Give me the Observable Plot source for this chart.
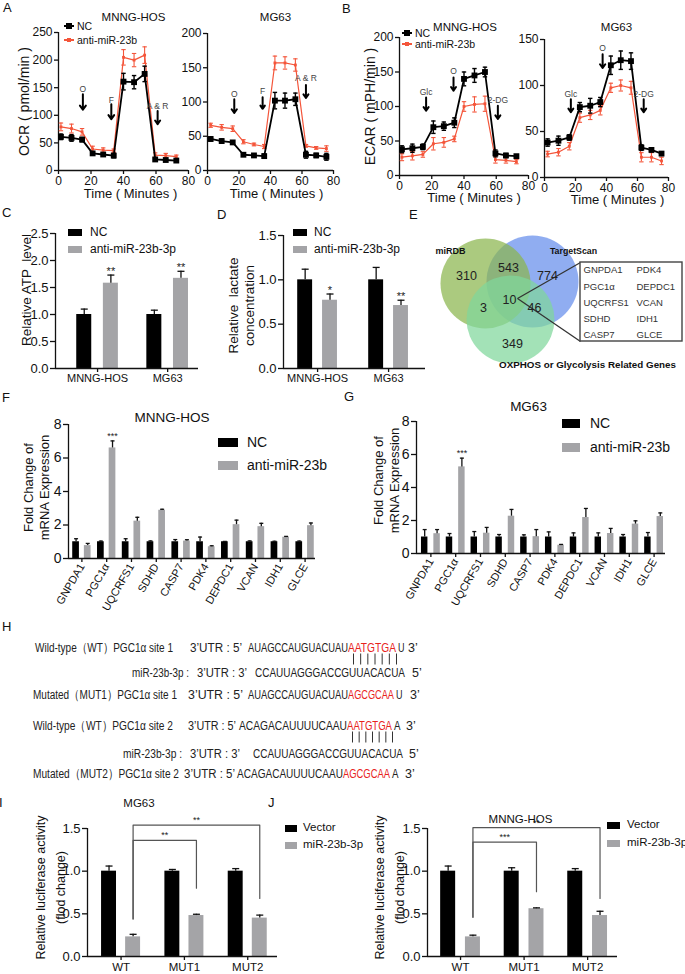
<!DOCTYPE html>
<html><head><meta charset="utf-8">
<script src="https://cdn.jsdelivr.net/npm/d3@7"></script>
<script src="https://cdn.jsdelivr.net/npm/@observablehq/plot@0.6"></script>
<style>
html,body{margin:0;padding:0;background:#fff;}
#fig{position:relative;width:685px;height:974px;overflow:hidden;background:#fff;font-family:"Liberation Sans",Arial,Helvetica,sans-serif;color:#111;}
#fig svg{max-width:none;overflow:visible;}
</style></head><body><div id="fig"></div>
<script>
// ================= DATA =================
// Panel A / B : Seahorse time courses
const tHOS = [1.5, 8, 14.5, 21, 27.5, 34, 40, 46.5, 53, 59.5, 66, 72.5];
const tMG  = [2, 9, 16, 22.8, 29.5, 36, 42.8, 49.2, 55.8, 62.5, 69, 75.5];
const ocrHosNC     = [61, 59, 56, 31, 29, 27, 161, 160, 175, 20, 19, 18];
const ocrHosNCsd   = [5, 6, 4, 3, 2, 4, 15, 12, 14, 3, 2, 3];
const ocrHosAnti   = [79, 76, 70, 39, 37, 36, 205, 200, 209, 28, 27, 25];
const ocrHosAntiSd = [7, 8, 6, 5, 4, 3, 14, 12, 15, 4, 4, 3];
const ocrMgNC      = [46, 43, 41, 23, 22, 21, 102, 102, 104, 23, 22, 20];
const ocrMgNCsd    = [3, 3, 2, 2, 2, 3, 12, 11, 9, 5, 3, 5];
const ocrMgAnti    = [66, 63, 61, 42, 38, 35, 157, 157, 154, 36, 33, 32];
const ocrMgAntiSd  = [3, 4, 4, 3, 2, 3, 10, 9, 9, 2, 2, 4];
const ecarHosNC     = [38, 39.5, 41.5, 70, 71.5, 76.5, 140, 145, 150, 32, 29, 28];
const ecarHosNCsd   = [5, 6, 4, 9, 6, 7, 10, 10, 7, 5, 3, 2];
const ecarHosAnti   = [26.5, 28.5, 30.5, 46, 48, 53, 100, 103, 104, 23, 22, 20];
const ecarHosAntiSd = [5, 6, 4, 9, 7, 4, 7, 11, 11, 5, 4, 3];
const ecarMgNC      = [38, 40, 43.5, 76.5, 78, 82, 122, 127.5, 126.5, 32.5, 30, 26];
const ecarMgNCsd    = [4, 5, 3, 5, 8, 5, 10, 10, 9, 3, 2, 2];
const ecarMgAnti    = [25.5, 27.5, 34, 65, 68, 73, 97.5, 100, 97.5, 22, 22, 18];
const ecarMgAntiSd  = [3, 4, 4, 5, 5, 5, 5, 6, 7, 5, 5, 4];
// injection annotations (time, label height, arrow top, arrow tip)
const arrowsOcrHos  = [{label:"O",t:15,ly:148,top:138,tip:110},{label:"F",t:32.5,ly:128,top:120,tip:93},{label:"A & R",t:61,ly:117,top:108,tip:84}];
const arrowsOcrMg   = [{label:"O",t:17,ly:112,top:104,tip:84},{label:"F",t:35,ly:115,top:107,tip:90},{label:"A & R",t:62.5,ly:134,top:125,tip:106}];
const arrowsEcarHos = [{label:"Glc",t:16.5,ly:121,top:113,tip:94},{label:"O",t:33.5,ly:151,top:142,tip:123},{label:"2-DG",t:61,ly:109,top:101,tip:82}];
const arrowsEcarMg  = [{label:"Glc",t:17,ly:91,top:85,tip:71},{label:"O",t:37.5,ly:141,top:134,tip:119},{label:"2-DG",t:64,ly:91,top:85,tip:71}];
const timeTicks = [0, 20, 40, 60, 80];

// Panel C / D
const cells = ["MNNG-HOS", "MG63"];
const atpNC = [1.0, 1.0], atpNCerr = [0.10, 0.08];
const atpAnti = [1.58, 1.67], atpAntiErr = [0.15, 0.13], atpStars = ["**", "**"];
const lacNC = [1.0, 1.0], lacNCerr = [0.12, 0.14];
const lacAnti = [0.77, 0.71], lacAntiErr = [0.07, 0.06], lacStars = ["*", "**"];

// Panel E
const vennNames = ["miRDB", "TargetScan", "OXPHOS or Glycolysis Related Genes"];
const vennCounts = [310, 543, 774, 10, 3, 46, 349];
const hubGenesL = ["GNPDA1", "PGC1α", "UQCRFS1", "SDHD", "CASP7"];
const hubGenesR = ["PDK4", "DEPDC1", "VCAN", "IDH1", "GLCE"];

// Panel F / G
const genes = ["GNPDA1","PGC1α","UQCRFS1","SDHD","CASP7","PDK4","DEPDC1","VCAN","IDH1","GLCE"];
const fNC      = [1,1,1,1,1,1,1,1,1,1];
const fNCerr   = [0.18,0.04,0.18,0.05,0.13,0.28,0.02,0.05,0.03,0.04];
const fAnti    = [0.77,6.6,2.23,2.88,1.04,0.7,2.02,1.9,1.27,1.96];
const fAntiErr = [0.13,0.42,0.23,0.06,0.08,0.06,0.27,0.2,0.05,0.16];
const fStars   = ["","***","","","","","","","",""];
const gNC      = [1,1,1,1,1,1,1,1,1,1];
const gNCerr   = [0.45,0.21,0.33,0.15,0.13,0.31,0.25,0.25,0.15,0.27];
const gAnti    = [1.2,5.25,1.23,2.26,1.02,0.5,2.18,1.21,1.78,2.24];
const gAntiErr = [0.25,0.53,0.35,0.41,0.43,0.05,0.55,0.31,0.2,0.22];
const gStars   = ["","***","","","","","","","",""];

// Panel H
const hLabels = ["Wild-type（WT）PGC1α site 1","miR-23b-3p :","Mutated（MUT1）PGC1α site 1","Wild-type（WT）PGC1α site 2","miR-23b-3p :","Mutated（MUT2）PGC1α site 2"];
const hUtr = ["3’UTR : 5’","3’UTR : 3’","3’UTR : 5’","3’UTR : 5’","3’UTR : 3’","3’UTR : 5’"];
const hSeqBlack = ["AUAGCCAUGUACUAU","CCAUUAGGGACCGUUACACUA","AUAGCCAUGUACUAU","ACAGACAUUUUCAAU","CCAUUAGGGACCGUUACACUA","ACAGACAUUUUCAAU"];
const hSeqRed = ["AATGTGA","","AGCGCAA","AATGTGA","","AGCGCAA"];
const hSeqTail = ["U","","U","A","","A"];
const hEnd = ["3’","5’","3’","3’","5’","3’"];

// Panel I / J
const constructs = ["WT", "MUT1", "MUT2"];
const iVec = [1.0, 1.0, 1.0], iVecErr = [0.06, 0.02, 0.03];
const iMir = [0.23, 0.48, 0.45], iMirErr = [0.03, 0.015, 0.035];
const iBrackets = [{a:0,b:1,top:1.36,ya:0.44,yb:0.8,label:"**"},{a:0,b:2,top:1.54,ya:0.44,yb:0.68,label:"**"}];
const jVec = [1.0, 1.0, 1.0], jVecErr = [0.06, 0.04, 0.03];
const jMir = [0.23, 0.56, 0.48], jMirErr = [0.02, 0.01, 0.05];
const jBrackets = [{a:0,b:1,top:1.34,ya:0.46,yb:0.76,label:"***"},{a:0,b:2,top:1.51,ya:0.46,yb:0.68,label:"**"}];

// ================= HELPERS =================
const RED = "#f4553a", GRAY = "#a4a4a7", BLACK = "#000";
const FONT = '"Liberation Sans", Arial, Helvetica, sans-serif';
const fig = document.getElementById("fig");
const cap = {draw(ctx, size){ const r = Math.sqrt(size/Math.PI); ctx.moveTo(-r,0); ctx.lineTo(r,0); }};
const baseStyle = {background:"transparent", fontFamily: FONT, color:"#111", overflow:"visible"};
const CENTER = {textAnchor:"middle", lineAnchor:"middle"};

function place(node, left, top, w, h) {
  const d = document.createElement("div");
  d.style.cssText = `position:absolute;left:${left}px;top:${top}px;width:${w}px;height:${h}px;`;
  d.appendChild(node); fig.appendChild(d);
}
function txt(s, x, y, {size=12, weight="normal", anchor="start", color="#111"}={}) {
  const d = document.createElement("div");
  d.textContent = s;
  d.style.cssText = `position:absolute;top:${y - size*0.6}px;left:${x}px;font-size:${size}px;line-height:${size*1.2}px;font-weight:${weight};color:${color};white-space:nowrap;`;
  if (anchor === "middle") d.style.transform = "translateX(-50%)";
  fig.appendChild(d);
}
function rectDiv(x, y, w, h, color) {
  const d = document.createElement("div");
  d.style.cssText = `position:absolute;left:${x}px;top:${y}px;width:${w}px;height:${h}px;background:${color};`;
  fig.appendChild(d);
}
function lineItem(x, y, color, ms, label, size) {
  rectDiv(x, y-0.75, 10, 1.5, color); rectDiv(x+5-ms/2, y-ms/2, ms, ms, color); txt(label, x+13, y, {size});
}
function boxItem(x, y, w, h, color, label, size, gap) {
  rectDiv(x, y-h/2, w, h, color); txt(label, x+w+gap, y, {size});
}

function timeChart(o) {
  const mk = (v, sd) => o.t.map((t,i)=>({t, v:v[i], lo:v[i]-sd[i], hi:v[i]+sd[i]}));
  const nc = mk(o.nc, o.ncSd), an = mk(o.anti, o.antiSd);
  const marks = [
    Plot.ruleY([0], {strokeWidth:1.3}),
    Plot.ruleX([0], {strokeWidth:1.3}),
    Plot.axisX({ticks: timeTicks, tickSize:4, tickPadding:2, fontSize:12, label:null, strokeWidth:1.3}),
    Plot.axisY({ticks: o.yTicks, tickSize:4, tickPadding:2, fontSize:12, label:null, strokeWidth:1.3})
  ];
  for (const [rows, color, big] of [[an, RED, false], [nc, BLACK, true]]) {
    marks.push(
      Plot.ruleX(rows, {x:"t", y1:"lo", y2:"hi", stroke:color, strokeWidth: big?1.4:1.1}),
      Plot.dot(rows, {x:"t", y:"hi", symbol:cap, r:2.2, stroke:color, strokeWidth: big?1.4:1.1, fill:"none"}),
      Plot.dot(rows, {x:"t", y:"lo", symbol:cap, r:2.2, stroke:color, strokeWidth: big?1.4:1.1, fill:"none"}),
      Plot.line(rows, {x:"t", y:"v", stroke:color, strokeWidth: big?1.8:1.2}),
      Plot.dot(rows, {x:"t", y:"v", symbol:"square", r: big?3.3:1.6, fill:color, stroke:"none"})
    );
  }
  marks.push(
    Plot.arrow(o.arrows, {x1:"t", x2:"t", y1:"top", y2:"tip", stroke:"#000", strokeWidth:2, headLength:5, headAngle:70}),
    Plot.text(o.arrows, {x:"t", y:"ly", text:"label", fontSize:8.5, fill:"#444"}),
    Plot.text([o.title], {frameAnchor:"top", dx:o.tdx, dy:o.tdy, fontSize:11.5, ...CENTER}),
    Plot.text(["Time ( Minutes )"], {frameAnchor:"bottom", dx:o.xdx, dy:o.xdy, fontSize:13, ...CENTER})
  );
  if (o.ylabel) marks.push(Plot.text([o.ylabel], {frameAnchor:"left", rotate:-90, dx:o.ydx, dy:0, fontSize:14, ...CENTER}));
  return Plot.plot({width:o.w, height:o.h, marginLeft:o.ml, marginRight:o.mr, marginTop:o.mt, marginBottom:o.mb,
    x:{domain:[0,80]}, y:{domain:[0,o.yMax]}, style:baseStyle, marks});
}

function barChart(o) {
  const rows = [];
  o.series.forEach(s => o.cats.forEach((c,i) => rows.push({i, x: i + s.off, v: s.vals[i], hi: s.vals[i] + s.errs[i], color: s.color, star: s.stars ? s.stars[i] : ""})));
  const marks = [
    Plot.rect(rows, {x1: d => d.x - o.hw, x2: d => d.x + o.hw, y1: d => 0, y2: "v", fill: "color"}),
    Plot.ruleX(rows, {x:"x", y1:"v", y2:"hi", stroke:"#111", strokeWidth:1.3}),
    Plot.dot(rows, {x:"x", y:"hi", symbol:cap, r:o.capR || 2.5, stroke:"#111", strokeWidth:1.3, fill:"none"}),
    Plot.text(rows.filter(d => d.star), {x:"x", y:"hi", text:"star", dy:o.starDy || -5, fontSize:o.starSize || 10, fill:"#222"}),
    Plot.ruleY([0], {strokeWidth:1.3}),
    Plot.ruleX([o.domain[0]], {strokeWidth:1.3}),
    Plot.axisY({ticks:o.yTicks, tickFormat:o.fmt, tickSize:5, tickPadding:2, fontSize:o.tickFont, label:null, strokeWidth:1.3}),
    Plot.axisX({ticks:d3.range(o.cats.length), tickFormat: i => o.cats[i], tickSize:4, tickPadding:2, fontSize:o.catFont, tickRotate:o.rotate || 0, label:null, strokeWidth:1.3})
  ];
  if (o.brackets) {
    const off = o.series[1].off;
    const pts = [];
    o.brackets.forEach((b,k) => {
      pts.push({k, x:b.a+off, y:b.ya},{k, x:b.a+off, y:b.top},{k, x:b.b+off, y:b.top},{k, x:b.b+off, y:b.yb});
    });
    marks.push(
      Plot.line(pts, {x:"x", y:"y", z:"k", stroke:"#555", strokeWidth:1.2}),
      Plot.text(o.brackets, {x: b => (b.a + b.b)/2 + off, y:"top", text:"label", dy:-5, fontSize:9, fill:"#222"})
    );
  }
  if (o.title) marks.push(Plot.text([o.title], {frameAnchor:"top", dx:o.tdx, dy:o.tdy, fontSize:o.titleSize || 14, ...CENTER}));
  marks.push(Plot.text([o.ylabel], {frameAnchor:"left", rotate:-90, dx:o.ydx, dy:o.ydy || 0, fontSize:o.yFont, lineHeight:o.lh || 1.2, ...CENTER}));
  return Plot.plot({width:o.w, height:o.h, marginLeft:o.ml, marginRight:o.mr, marginTop:o.mt, marginBottom:o.mb,
    x:{domain:o.domain}, y:{domain:[0,o.yMax]}, color:{type:"identity"}, style:baseStyle, marks});
}

// ================= PANEL A =================
place(timeChart({t:tHOS, nc:ocrHosNC, ncSd:ocrHosNCsd, anti:ocrHosAnti, antiSd:ocrHosAntiSd, yMax:250, yTicks:[0,50,100,150,200,250],
  arrows:arrowsOcrHos, title:"MNNG-HOS", tdx:10, tdy:-15, xdx:7, xdy:23, ylabel:"OCR ( pmol/min )", ydx:-34,
  w:195, h:205, ml:58, mr:7, mt:32, mb:35}), 0, 0, 195, 205);
place(timeChart({t:tMG, nc:ocrMgNC, ncSd:ocrMgNCsd, anti:ocrMgAnti, antiSd:ocrMgAntiSd, yMax:200, yTicks:[0,50,100,150,200],
  arrows:arrowsOcrMg, title:"MG63", tdx:5, tdy:-16, xdx:6, xdy:23,
  w:190, h:205, ml:57, mr:7, mt:33, mb:35}), 150, 0, 190, 205);
lineItem(64, 26, BLACK, 6, "NC", 10.5);
lineItem(64, 40, RED, 3.2, "anti-miR-23b", 10.5);

// ================= PANEL B =================
place(timeChart({t:tHOS, nc:ecarHosNC, ncSd:ecarHosNCsd, anti:ecarHosAnti, antiSd:ecarHosAntiSd, yMax:200, yTicks:[0,50,100,150,200],
  arrows:arrowsEcarHos, title:"MNNG-HOS", tdx:1, tdy:-10, xdx:10, xdy:22, ylabel:"ECAR ( mPH/min )", ydx:-29,
  w:190, h:205, ml:54, mr:7, mt:37, mb:30}), 345, 0, 190, 205);
place(timeChart({t:tMG, nc:ecarMgNC, ncSd:ecarMgNCsd, anti:ecarMgAnti, antiSd:ecarMgAntiSd, yMax:150, yTicks:[0,50,100,150],
  arrows:arrowsEcarMg, title:"MG63", tdx:10, tdy:-12, xdx:11, xdy:22,
  w:190, h:205, ml:54, mr:12, mt:39, mb:28}), 490, 0, 190, 205);
lineItem(402, 33, BLACK, 6, "NC", 10.5);
lineItem(402, 44, RED, 3.2, "anti-miR-23b", 10.5);

// ================= PANEL C =================
const fmt1 = d3.format(".1f");
place(barChart({cats:cells, series:[{vals:atpNC, errs:atpNCerr, color:BLACK, off:-0.19},{vals:atpAnti, errs:atpAntiErr, color:GRAY, off:0.19, stars:atpStars}],
  hw:0.107, domain:[-0.6,1.44], yMax:2.5, yTicks:[0,0.5,1,1.5,2,2.5], fmt:fmt1, tickFont:13, catFont:11,
  ylabel:"Relative ATP  level", ydx:-30, ydy:-11, yFont:13.5, starSize:11, starDy:-4, capR:3.5,
  w:210, h:185, ml:55, mr:12, mt:33, mb:17}), 0, 200, 210, 185);
boxItem(68, 232, 14, 7, BLACK, "NC", 12, 8);
boxItem(68, 249, 14, 7, GRAY, "anti-miR-23b-3p", 12, 8);

// ================= PANEL D =================
place(barChart({cats:cells, series:[{vals:lacNC, errs:lacNCerr, color:BLACK, off:-0.175},{vals:lacAnti, errs:lacAntiErr, color:GRAY, off:0.175, stars:lacStars}],
  hw:0.105, domain:[-0.48,1.52], yMax:1.5, yTicks:[0,0.5,1,1.5], fmt:fmt1, tickFont:13, catFont:11,
  ylabel:"Relative  lactate\nconcentration", ydx:-43, ydy:3.5, yFont:13.5, starSize:11, starDy:-4, capR:3.5,
  w:215, h:185, ml:68, mr:5, mt:35, mb:17}), 215, 200, 215, 185);
boxItem(293, 232, 14, 7, BLACK, "NC", 12, 7);
boxItem(293, 249, 14, 7, GRAY, "anti-miR-23b-3p", 12, 7);

// ================= PANEL E =================
{
  const circles = [
    {name:vennNames[0], cx:485, cy:283, r:45, fill:"#8bb54d"},
    {name:vennNames[1], cx:532, cy:281, r:46, fill:"#658deb"},
    {name:vennNames[2], cx:510, cy:319, r:44, fill:"#80d79b"}
  ];
  const regionXY = [[466,275],[508,267],[547,275],[509,299],[483,307],[534,307],[512,343]];
  const regions = vennCounts.map((c,i) => ({x:regionXY[i][0], y:regionXY[i][1], c:String(c)}));
  const setLabels = [{x:450,y:251,t:vennNames[0],s:9},{x:573,y:251,t:vennNames[1],s:8.8},{x:587,y:364,t:vennNames[2],s:9.8}];
  const geneRows = [269,286,302,318,334];
  const geneTexts = hubGenesL.map((g,i)=>({x:583,y:geneRows[i],t:g})).concat(hubGenesR.map((g,i)=>({x:636,y:geneRows[i],t:g})));
  const e = Plot.plot({width:265, height:150, margin:0,
    x:{domain:[420,685], range:[0,265], axis:null}, y:{domain:[225,375], range:[0,150], axis:null},
    r:{type:"identity"}, color:{type:"identity"}, style:baseStyle,
    marks:[
      Plot.dot(circles, {x:"cx", y:"cy", r:"r", fill:"fill", fillOpacity:0.72, stroke:"none"}),
      Plot.link([{x2:580,y2:262},{x2:580,y2:341}], {x1:()=>517, y1:()=>298, x2:"x2", y2:"y2", stroke:"#333", strokeWidth:1.3}),
      Plot.rect([{}], {x1:()=>580, x2:()=>682, y1:()=>262, y2:()=>341, fill:"white", stroke:"#444", strokeWidth:1.4}),
      Plot.text(regions, {x:"x", y:"y", text:"c", fontSize:12.5, fill:"#222"}),
      Plot.text(setLabels, {x:"x", y:"y", text:"t", fontSize:d=>d.s, fontWeight:"bold", fill:"#111"}),
      Plot.text(geneTexts, {x:"x", y:"y", text:"t", textAnchor:"start", fontSize:9.5, fill:"#333"})
    ]});
  place(e, 420, 225, 265, 150);
}

// ================= PANEL F =================
place(barChart({cats:genes, series:[{vals:fNC, errs:fNCerr, color:BLACK, off:-0.235},{vals:fAnti, errs:fAntiErr, color:GRAY, off:0.235, stars:fStars}],
  hw:0.135, domain:[-0.54,9.42], yMax:8, yTicks:[0,2,4,6,8], fmt:d3.format("d"), tickFont:14, catFont:11, rotate:-60,
  title:"MNNG-HOS", tdx:-20, tdy:-7, titleSize:13.5,
  ylabel:"Fold Change of\nmRNA Expression", ydx:-32.5, ydy:-4, yFont:13, starSize:9, starDy:-5, capR:2,
  w:320, h:215, ml:68, mr:5, mt:44, mb:37}), 0, 380, 320, 215);
boxItem(218, 442, 20, 9, BLACK, "NC", 14, 9);
boxItem(218, 465, 20, 9, GRAY, "anti-miR-23b", 14, 9);

// ================= PANEL G =================
place(barChart({cats:genes, series:[{vals:gNC, errs:gNCerr, color:BLACK, off:-0.25},{vals:gAnti, errs:gAntiErr, color:GRAY, off:0.25, stars:gStars}],
  hw:0.13, domain:[-0.58,9.46], yMax:8, yTicks:[0,2,4,6,8], fmt:d3.format("d"), tickFont:14, catFont:11, rotate:-60,
  title:"MG63", tdx:-12.5, tdy:-15, titleSize:13.5,
  ylabel:"Fold Change of\nmRNA Expression", ydx:-30.5, ydy:-7, yFont:13, starSize:9, starDy:-5, capR:2,
  w:325, h:215, ml:71, mr:5, mt:41, mb:42}), 345, 380, 325, 215);
boxItem(562, 423, 18, 9, BLACK, "NC", 14, 10);
boxItem(562, 447, 18, 9, GRAY, "anti-miR-23b", 14, 10);

// ================= PANEL H =================
{
  const lay = [
    {y:651.5, lx:35, lw:138, ux:190, uw:52, sx:248, sw:100, rw:48, tx:398, ex:408},
    {y:676.5, lx:132, lw:57, ux:197, uw:50, sx:255, sw:150, rw:0, tx:0, ex:412},
    {y:698.5, lx:33, lw:144, ux:188, uw:55, sx:248, sw:100, rw:46, tx:396, ex:410},
    {y:729.5, lx:33, lw:140, ux:188, uw:48, sx:239, sw:108, rw:45, tx:394, ex:406},
    {y:757.5, lx:123, lw:59, ux:190, uw:50, sx:253, sw:150, rw:0, tx:0, ex:409},
    {y:777.5, lx:33, lw:146, ux:184, uw:51, sx:237, sw:106, rw:47, tx:392, ex:405}
  ];
  const top = 630;
  const svg = d3.create("svg").attr("width",685).attr("height",160)
    .attr("font-family", FONT).attr("font-size", 12.5).attr("fill", "#222");
  const put = (s, x, y, w, color) => {
    const t = svg.append("text").attr("x", x).attr("y", y - top).text(s);
    if (w) t.attr("textLength", w).attr("lengthAdjust", "spacingAndGlyphs");
    if (color) t.attr("fill", color);
  };
  lay.forEach((L, i) => {
    put(hLabels[i], L.lx, L.y, L.lw);
    put(hUtr[i], L.ux, L.y, L.uw);
    put(hSeqBlack[i], L.sx, L.y, L.sw);
    if (hSeqRed[i]) {
      put(hSeqRed[i], L.sx + L.sw, L.y, L.rw, "#e8231c");
      put(hSeqTail[i], L.tx, L.y, 6.5);
    }
    put(hEnd[i], L.ex, L.y, 0);
  });
  // complementary pairing bars under the wild-type seed sites
  [0, 3].forEach(i => {
    const L = lay[i], x0 = L.sx + L.sw + 5.5, step = (L.rw - 5) / 6;
    d3.range(7).forEach(k => {
      svg.append("line").attr("x1", x0 + k*step).attr("x2", x0 + k*step)
        .attr("y1", L.y + 2 - top).attr("y2", L.y + 13 - top).attr("stroke", "#333").attr("stroke-width", 1);
    });
  });
  place(svg.node(), 0, top, 685, 160);
}

// ================= PANEL I =================
place(barChart({cats:constructs, series:[{vals:iVec, errs:iVecErr, color:BLACK, off:-0.19},{vals:iMir, errs:iMirErr, color:GRAY, off:0.19}],
  hw:0.118, domain:[-0.53,2.47], yMax:1.5, yTicks:[0,0.5,1,1.5], fmt:fmt1, tickFont:13, catFont:11.5,
  brackets:iBrackets, title:"MG63", tdx:-43.5, tdy:-25, titleSize:11.5,
  ylabel:"Relative luciferase activity\n(flod change)", ydx:-39, ydy:-5, yFont:12.5, lh:1.6, capR:3.5,
  w:282, h:179, ml:87, mr:5, mt:33, mb:18}), 0, 795, 282, 179);
boxItem(285, 828, 12, 7, BLACK, "Vector", 11.5, 6);
boxItem(285, 845, 12, 7, GRAY, "miR-23b-3p", 11.5, 6);

// ================= PANEL J =================
place(barChart({cats:constructs, series:[{vals:jVec, errs:jVecErr, color:BLACK, off:-0.195},{vals:jMir, errs:jMirErr, color:GRAY, off:0.195}],
  hw:0.118, domain:[-0.52,2.47], yMax:1.5, yTicks:[0,0.5,1,1.5], fmt:fmt1, tickFont:13, catFont:11.5,
  brackets:jBrackets, title:"MNNG-HOS", tdx:-2, tdy:-9, titleSize:11.5,
  ylabel:"Relative luciferase activity\n(flod change)", ydx:-40, ydy:-5, yFont:12.5, lh:1.6, capR:3.5,
  w:277, h:179, ml:82, mr:5, mt:33, mb:18}), 345, 795, 277, 179);
boxItem(607, 825, 13, 7, BLACK, "Vector", 11.5, 7);
boxItem(607, 843, 13, 7, GRAY, "miR-23b-3p", 11.5, 7);

// ================= PANEL LETTERS =================
[["A",7,8],["B",346,9],["C",6,213],["D",221,215],["E",413,215],["F",6,398],["G",348,397],["H",6,627],["I",3,803],["J",272,803]]
  .forEach(([s,x,y]) => txt(s, x-4, y, {size:13}));
</script></body></html>
